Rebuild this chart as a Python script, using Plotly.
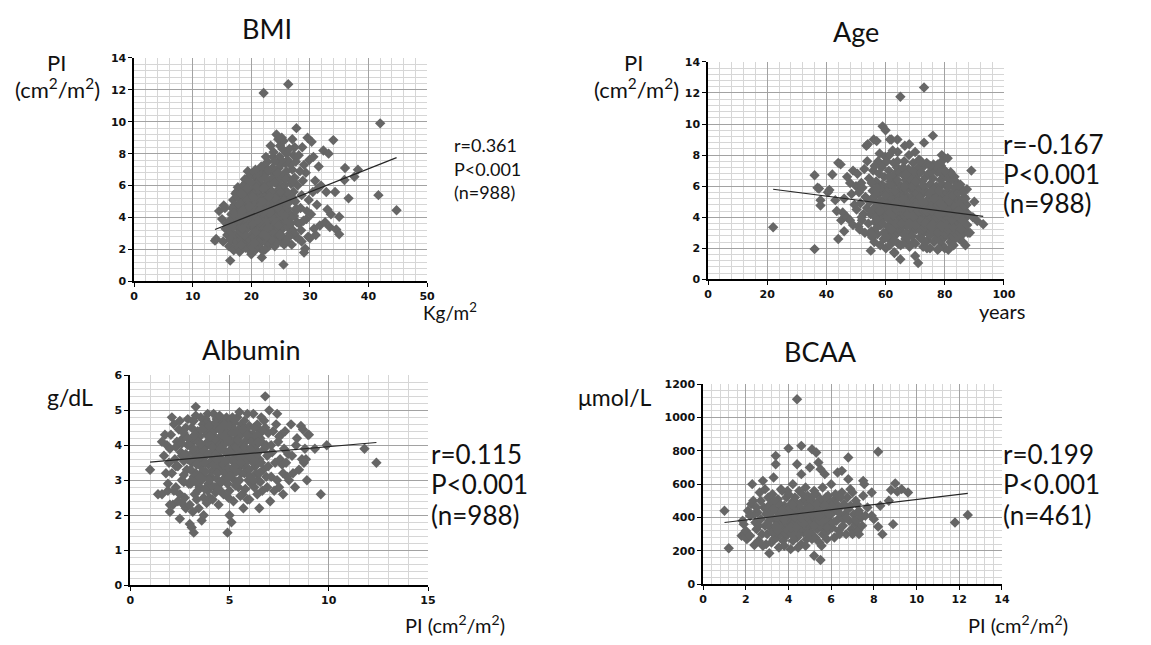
import plotly.graph_objects as go

W, H = 1151, 645

# ---- values -------------------------------------------------------------------------------
# BMI (kg/m2) vs PI (cm2/m2)
bmi_pts = [
    (13.8, 2.55), (14.0, 2.65), (14.5, 4.4), (15.0, 3.9), (15.3, 4.75), (15.2, 2.5), (15.8, 3.6), (15.5, 4.6),
    (15.9, 2.9), (15.6, 3.3),
    (16.2, 2.2), (16.4, 1.3), (16.5, 3.1), (16.6, 4.2), (16.8, 2.7), (16.9, 5.1), (17.0, 1.95), (17.1, 3.6),
    (17.2, 4.8), (17.3, 2.4), (17.4, 3.9), (17.5, 5.6), (17.6, 3.0), (17.7, 4.5), (17.8, 2.1), (17.9, 3.3),
    (16.3, 3.8), (16.7, 4.6), (17.0, 2.9), (17.5, 4.1), (17.9, 5.2), (16.9, 3.4), (17.3, 5.5), (17.8, 3.8),
    (16.4, 2.6), (17.6, 2.5), (17.1, 4.3), (17.7, 5.9),
    (18.0, 1.85), (18.1, 2.6), (18.2, 3.4), (18.3, 4.2), (18.4, 5.0), (18.5, 5.8), (18.6, 2.2), (18.7, 3.0),
    (18.8, 3.8), (18.9, 4.6), (19.0, 5.4), (19.1, 6.2), (19.2, 2.5), (19.3, 3.3), (19.4, 4.1), (19.5, 4.9),
    (19.6, 5.7), (19.7, 6.6), (19.8, 1.9), (19.9, 2.8), (18.0, 4.8), (18.2, 2.9), (18.4, 3.7), (18.6, 4.5),
    (18.8, 5.3), (19.0, 2.1), (19.2, 3.9), (19.4, 5.1), (19.6, 2.4), (19.8, 3.5), (18.1, 3.1), (18.3, 5.5),
    (18.5, 2.4), (18.7, 4.0), (18.9, 6.4), (19.1, 3.6), (19.3, 4.4), (19.5, 2.7), (19.7, 4.3), (19.9, 5.0),
    (18.6, 6.0), (19.4, 6.9), (19.9, 4.0), (18.4, 4.4), (19.0, 3.2),
    (20.0, 1.7), (20.1, 2.3), (20.2, 3.0), (20.3, 3.7), (20.4, 4.4), (20.5, 5.1), (20.6, 5.8), (20.7, 6.5),
    (20.8, 2.0), (20.9, 2.7), (21.0, 3.4), (21.1, 4.1), (21.2, 4.8), (21.3, 5.5), (21.4, 6.2), (21.5, 7.0),
    (21.6, 2.4), (21.7, 3.1), (21.8, 1.5), (21.9, 3.8), (20.0, 4.7), (20.2, 5.4), (20.4, 6.1), (20.6, 2.6),
    (20.8, 3.3), (21.0, 4.0), (21.2, 5.7), (21.4, 2.9), (21.6, 4.5), (21.8, 5.2), (20.1, 3.5), (20.3, 2.1),
    (20.5, 6.8), (20.7, 4.2), (20.9, 4.9), (21.1, 6.6), (21.3, 3.6), (21.5, 4.3), (21.7, 5.9), (21.9, 6.8),
    (20.0, 3.9), (20.4, 2.8), (20.8, 5.6), (21.2, 2.2), (21.6, 6.4), (21.9, 4.6), (20.6, 4.0), (21.0, 5.2),
    (21.4, 3.3), (21.8, 4.0), (20.3, 4.6), (21.1, 2.6), (21.7, 7.2), (20.9, 6.1), (21.5, 5.0),
    (22.0, 1.9), (22.1, 11.8), (22.1, 2.6), (22.2, 3.3), (22.3, 4.0), (22.4, 4.7), (22.5, 5.4), (22.6, 6.1),
    (22.7, 6.8), (22.8, 7.5), (22.9, 2.2), (23.0, 2.9), (23.1, 3.6), (23.2, 4.3), (23.3, 5.0), (23.4, 5.7),
    (23.5, 6.4), (23.6, 7.1), (23.7, 7.8), (23.8, 2.5), (23.9, 3.2), (22.0, 3.9), (22.2, 4.6), (22.4, 5.3),
    (22.6, 2.4), (22.8, 3.1), (23.0, 3.8), (23.2, 5.6), (23.4, 2.7), (23.6, 4.4), (23.8, 5.1), (22.1, 5.8),
    (22.3, 6.5), (22.5, 3.0), (22.7, 4.2), (22.9, 4.9), (23.1, 6.3), (23.3, 3.4), (23.5, 4.1), (23.7, 5.5),
    (23.9, 6.7), (22.0, 7.2), (22.4, 2.0), (22.8, 5.8), (23.2, 2.3), (23.6, 3.4), (23.9, 4.5), (22.6, 4.9),
    (23.0, 6.0), (23.4, 4.6), (23.8, 8.1), (22.3, 3.5), (23.1, 4.8), (23.7, 3.9), (22.9, 7.0), (23.5, 5.3),
    (24.0, 2.2), (24.1, 2.9), (24.2, 3.6), (24.3, 4.3), (24.4, 5.0), (24.5, 5.7), (24.6, 6.4), (24.7, 7.1),
    (24.8, 7.8), (24.9, 8.5), (25.0, 2.5), (25.1, 3.2), (25.2, 3.9), (25.3, 4.6), (25.4, 5.3), (25.5, 1.05),
    (25.6, 6.0), (25.7, 6.7), (25.8, 7.4), (25.9, 8.1), (24.0, 4.7), (24.2, 5.4), (24.4, 6.1), (24.6, 2.6),
    (24.8, 3.3), (25.0, 4.0), (25.2, 5.9), (25.4, 2.8), (25.6, 4.4), (25.8, 5.1), (24.1, 6.9), (24.3, 9.2),
    (24.5, 3.0), (24.7, 4.2), (24.9, 4.9), (25.1, 6.6), (25.3, 3.5), (25.5, 8.8), (25.7, 5.5), (25.9, 3.8),
    (24.6, 8.9), (25.2, 9.0), (24.8, 6.3), (25.6, 2.3), (25.0, 7.3), (24.3, 2.4),
    (26.0, 2.5), (26.2, 3.4), (26.3, 12.35), (26.4, 4.3), (26.6, 5.2), (26.8, 6.1), (27.0, 7.0), (27.2, 7.9),
    (27.4, 8.4), (27.6, 2.8), (27.8, 3.7), (26.1, 4.6), (26.3, 5.5), (26.5, 6.4), (26.7, 7.3), (26.9, 2.3),
    (27.1, 3.2), (27.3, 4.1), (27.5, 5.0), (27.7, 9.6), (27.9, 6.0), (26.0, 6.9), (26.5, 8.3), (27.0, 8.9),
    (27.4, 6.5), (27.8, 4.5), (26.6, 3.0), (27.2, 5.6), (26.2, 7.6), (27.6, 7.5), (26.8, 4.0),
    (28.0, 2.7), (28.2, 3.6), (28.4, 4.6), (28.6, 5.4), (28.8, 6.3), (29.0, 7.3), (29.2, 2.05), (29.0, 1.8),
    (29.4, 3.9), (29.6, 9.0), (29.8, 5.1), (28.1, 7.9), (28.5, 3.2), (28.9, 3.8), (29.3, 6.8), (29.7, 2.8),
    (28.3, 6.9), (28.7, 8.4), (29.5, 4.4), (28.6, 2.5), (29.9, 7.6),
    (30.0, 2.7), (30.3, 8.75), (30.5, 5.6), (30.7, 3.3), (30.2, 4.2), (30.9, 6.3), (31.2, 4.8), (31.5, 7.2),
    (31.7, 3.5), (31.3, 5.8), (31.9, 6.0), (30.6, 7.8), (31.0, 2.9),
    (32.3, 8.2), (32.6, 3.7), (32.8, 5.6), (33.2, 8.0), (33.0, 4.5), (33.6, 4.2), (34.0, 8.85), (34.5, 3.25),
    (35.0, 4.05), (35.0, 2.95), (34.3, 5.6), (33.4, 3.4),
    (35.9, 6.35), (36.0, 7.1), (36.6, 5.2), (37.6, 6.55), (38.2, 7.0), (41.7, 5.4), (42.0, 9.9), (44.8, 4.45),
    # dense core
    (18.3, 2.3), (18.9, 2.9), (19.5, 3.6), (20.1, 4.3), (20.7, 3.1), (21.3, 2.5), (21.9, 2.9), (22.5, 3.7),
    (23.1, 4.3), (23.7, 3.0), (24.3, 3.7), (24.9, 4.4), (25.5, 5.0), (26.1, 5.6), (26.7, 3.6), (27.3, 3.0),
    (18.5, 3.3), (19.1, 4.0), (19.7, 4.7), (20.3, 5.3), (20.9, 5.9), (21.5, 3.7), (22.1, 4.3), (22.7, 5.0),
    (23.3, 5.6), (23.9, 6.2), (24.5, 6.8), (25.1, 7.6), (25.7, 4.1), (26.3, 4.9), (26.9, 5.3), (27.5, 4.5),
    (18.2, 4.0), (19.3, 5.8), (20.5, 2.4), (21.1, 3.8), (21.7, 4.8), (22.3, 5.9), (22.9, 3.4), (23.5, 2.6),
    (24.1, 5.2), (24.7, 3.5), (25.3, 8.3), (25.9, 6.4), (26.5, 2.8), (27.1, 6.3), (19.9, 6.2), (20.7, 7.0),
    (22.5, 7.8), (23.3, 8.5), (24.0, 7.5), (26.0, 8.0), (21.3, 4.4), (22.0, 5.0), (23.0, 5.3), (24.5, 4.6),
    (25.0, 5.6), (20.2, 3.6), (22.6, 2.8), (24.9, 2.9),
]

# Age (years) vs PI (cm2/m2)
age_pts = [
    (22.0, 3.35), (36.0, 1.95), (36.0, 6.7), (37.0, 5.9), (37.5, 5.85), (38.0, 5.1), (38.0, 4.75), (40.5, 5.6),
    (41.0, 5.75), (42.0, 6.75), (43.0, 5.1), (43.5, 4.4), (44.0, 2.6), (44.0, 7.5), (44.8, 7.4), (45.0, 3.8),
    (45.5, 4.3), (46.0, 3.1), (46.0, 5.2), (47.0, 6.6), (47.0, 4.0), (48.0, 6.2), (48.0, 3.8), (48.5, 5.5),
    (49.0, 7.0), (49.0, 3.5), (49.5, 4.8), (50.0, 6.0),
    (50.2, 4.5), (50.5, 6.8), (50.8, 3.4), (51.0, 5.6), (51.3, 3.2), (51.5, 4.9), (51.8, 6.2), (52.0, 3.8),
    (52.2, 5.9), (52.5, 4.2), (52.8, 7.1), (53.0, 3.0), (53.2, 5.3), (53.5, 8.6), (53.7, 4.6), (54.0, 8.7),
    (54.2, 3.6), (54.4, 6.5), (54.6, 5.0), (54.8, 2.9), (53.8, 7.6), (51.9, 4.0), (54.9, 4.2),
    (55.0, 1.85), (55.2, 3.1), (55.4, 4.4), (55.6, 5.7), (55.8, 7.0), (56.0, 9.0), (56.2, 2.4), (56.4, 3.7),
    (56.6, 5.0), (56.8, 6.3), (57.0, 8.9), (57.2, 2.9), (57.4, 4.2), (57.6, 5.5), (57.8, 6.8), (58.0, 8.1),
    (58.2, 2.2), (58.4, 3.5), (58.6, 4.8), (58.8, 6.1), (59.0, 9.85), (59.2, 7.4), (59.4, 3.0), (59.6, 4.3),
    (59.8, 5.6), (55.5, 2.7), (56.5, 4.0), (57.5, 7.6), (58.5, 5.9), (59.5, 6.6), (55.9, 5.3), (56.9, 3.3),
    (57.9, 4.6), (58.9, 3.9), (59.9, 7.9), (55.3, 6.2), (56.3, 7.3), (57.3, 3.8), (58.3, 5.1), (59.3, 2.6),
    (56.7, 4.7), (58.7, 7.2),
    (60.0, 9.6), (60.1, 2.0), (60.3, 3.0), (60.5, 4.0), (60.7, 5.0), (60.9, 6.0), (61.1, 7.0), (61.3, 8.0),
    (61.5, 9.0), (61.7, 2.5), (61.9, 3.5), (62.1, 4.5), (62.3, 5.5), (62.5, 6.5), (62.7, 7.5), (62.0, 9.0),
    (62.9, 1.75), (63.1, 3.2), (63.3, 4.2), (63.5, 5.2), (63.7, 6.2), (63.9, 7.2), (64.1, 8.2), (64.0, 9.0),
    (64.3, 2.3), (64.5, 3.8), (64.7, 4.8), (64.9, 5.8), (63.0, 1.7), (60.2, 4.6), (60.6, 5.6), (60.8, 3.4),
    (61.2, 4.3), (61.6, 6.3), (61.8, 5.3), (62.2, 2.8), (62.6, 3.7), (62.8, 4.9), (63.2, 6.8), (63.6, 2.9),
    (63.8, 4.5), (64.2, 5.4), (64.6, 6.9), (64.8, 3.3), (60.4, 7.6), (61.4, 2.2), (62.4, 8.3), (63.4, 3.6),
    (64.4, 4.2), (60.9, 4.8), (62.0, 6.0), (63.0, 5.7), (64.0, 3.0),
    (65.0, 11.75), (65.0, 1.3), (65.1, 2.2), (65.3, 3.1), (65.5, 4.0), (65.7, 4.9), (65.9, 5.8), (66.1, 6.7),
    (66.3, 7.6), (66.5, 8.6), (66.7, 2.6), (66.9, 3.5), (67.1, 4.4), (67.3, 5.3), (67.5, 6.2), (67.7, 7.1),
    (67.9, 8.0), (68.0, 8.7), (68.1, 2.1), (68.3, 3.0), (68.5, 3.9), (68.7, 4.8), (68.9, 5.7), (69.1, 6.6),
    (69.3, 7.5), (69.5, 2.4), (69.7, 3.3), (69.9, 4.2), (65.2, 5.1), (65.4, 6.0), (65.6, 3.4), (65.8, 4.3),
    (66.0, 2.9), (66.2, 3.8), (66.4, 4.6), (66.6, 5.5), (66.8, 6.4), (67.0, 3.0), (67.2, 3.9), (67.4, 4.7),
    (67.6, 2.3), (67.8, 5.0), (68.2, 4.2), (68.4, 5.1), (68.6, 6.0), (68.8, 3.4), (69.0, 4.5), (69.2, 5.4),
    (69.4, 3.8), (69.6, 6.2), (69.8, 5.1), (66.0, 7.2), (67.0, 5.8), (68.0, 6.5), (69.0, 2.8), (67.5, 3.5),
    (66.5, 4.1),
    (70.0, 1.5), (70.0, 8.2), (71.0, 1.05), (70.1, 2.3), (70.3, 3.2), (70.5, 4.1), (70.7, 5.0), (70.9, 5.9),
    (71.1, 6.8), (71.3, 7.7), (71.5, 2.7), (71.7, 3.6), (71.9, 4.5), (72.1, 5.4), (72.3, 6.3), (72.5, 7.2),
    (72.7, 2.1), (72.9, 3.0), (73.0, 12.35), (73.0, 8.8), (73.1, 3.9), (73.3, 4.8), (73.5, 5.7), (73.7, 6.6),
    (73.9, 7.5), (74.1, 2.5), (74.3, 3.4), (74.5, 4.3), (74.7, 5.2), (74.9, 6.1), (70.2, 4.6), (70.4, 5.5),
    (70.6, 3.7), (70.8, 6.4), (71.2, 4.0), (71.4, 4.9), (71.6, 5.8), (71.8, 3.1), (72.0, 4.2), (72.2, 2.6),
    (72.4, 3.5), (72.6, 4.7), (72.8, 5.6), (73.2, 3.3), (73.4, 2.4), (73.6, 4.1), (73.8, 5.0), (74.0, 3.8),
    (74.2, 4.7), (74.4, 6.8), (74.6, 2.9), (74.8, 3.7), (71.0, 7.2), (72.0, 6.9), (73.0, 6.0), (74.0, 5.6),
    (75.0, 2.0), (75.2, 2.9), (75.4, 3.8), (75.6, 4.7), (75.8, 5.6), (76.0, 9.25), (76.0, 6.5), (76.2, 7.4),
    (76.4, 2.4), (76.6, 3.3), (76.8, 4.2), (77.0, 5.1), (77.2, 6.0), (77.4, 6.9), (77.6, 1.9), (77.8, 2.8),
    (78.0, 3.7), (78.2, 4.6), (78.4, 5.5), (78.6, 6.4), (78.8, 7.3), (79.0, 8.0), (79.2, 2.2), (79.4, 3.1),
    (79.6, 4.0), (79.8, 4.9), (75.1, 4.3), (75.3, 5.2), (75.5, 6.1), (75.7, 3.1), (75.9, 4.0), (76.1, 4.9),
    (76.3, 5.8), (76.5, 3.7), (76.7, 4.6), (76.9, 2.6), (77.1, 3.5), (77.3, 4.4), (77.5, 5.3), (77.7, 3.9),
    (77.9, 4.8), (78.1, 5.7), (78.3, 2.5), (78.5, 3.4), (78.7, 4.3), (78.9, 5.2), (79.1, 6.1), (79.3, 3.6),
    (79.5, 5.5), (79.7, 6.8), (79.9, 2.7), (76.4, 7.1), (77.6, 7.4), (78.2, 6.9), (75.4, 6.9),
    (80.0, 2.0), (80.2, 2.9), (80.4, 3.8), (80.6, 4.7), (80.8, 5.6), (81.0, 7.8), (81.0, 6.5), (81.2, 1.9),
    (81.4, 2.8), (81.6, 3.7), (81.8, 4.6), (82.0, 5.5), (82.2, 6.4), (82.4, 2.3), (82.6, 3.2), (82.8, 4.1),
    (83.0, 5.0), (83.2, 5.9), (83.4, 2.6), (83.6, 3.5), (83.8, 4.4), (84.0, 5.3), (84.2, 6.2), (84.4, 2.9),
    (84.6, 3.8), (84.8, 4.7), (80.1, 4.2), (80.3, 5.1), (80.5, 6.0), (80.7, 3.3), (80.9, 4.2), (81.1, 5.1),
    (81.3, 6.0), (81.5, 4.0), (81.7, 5.0), (81.9, 2.4), (82.1, 3.6), (82.3, 4.5), (82.5, 5.4), (82.7, 2.8),
    (82.9, 3.7), (83.1, 4.6), (83.3, 6.6), (83.5, 3.0), (83.7, 4.0), (84.1, 4.9), (84.3, 3.4), (84.5, 5.6),
    (84.9, 3.1), (80.5, 6.9), (82.0, 6.9),
    (85.0, 2.6), (85.2, 3.4), (85.4, 4.2), (85.6, 5.0), (85.8, 5.8), (86.0, 2.9), (86.2, 3.7), (86.4, 4.5),
    (86.6, 5.3), (86.8, 3.2), (87.0, 2.2), (87.2, 4.0), (87.4, 4.8), (87.6, 3.5), (85.3, 6.1), (86.1, 2.4),
    (86.5, 3.0), (85.7, 3.9), (86.9, 4.3), (87.8, 3.0), (87.0, 5.2), (85.9, 4.6),
    (89.0, 7.0), (88.0, 4.2), (89.5, 4.0), (90.0, 5.0), (91.0, 3.75), (93.0, 3.55), (88.5, 3.0), (87.5, 5.8),
    # dense core
    (58.1, 4.4), (59.1, 5.0), (60.1, 5.4), (60.5, 2.7), (61.0, 3.9), (61.5, 4.7), (62.0, 3.2), (62.5, 4.1),
    (63.0, 4.8), (63.5, 4.5), (64.0, 6.4), (64.5, 5.1), (65.0, 4.6), (65.5, 3.6), (66.0, 5.2), (66.5, 6.0),
    (67.0, 2.6), (67.5, 4.2), (68.0, 3.6), (68.5, 4.6), (69.0, 6.0), (69.5, 4.0), (70.0, 3.5), (70.5, 4.8),
    (71.0, 4.4), (71.5, 5.3), (72.0, 3.8), (72.5, 5.0), (73.0, 4.4), (73.5, 3.6), (74.0, 4.4), (74.5, 5.5),
    (75.0, 3.4), (75.5, 4.5), (76.0, 4.3), (76.5, 5.2), (77.0, 4.0), (77.5, 3.0), (78.0, 4.2), (78.5, 4.9),
    (79.0, 3.4), (79.5, 4.4), (80.0, 4.6), (80.5, 3.5), (81.0, 4.4), (81.5, 3.3), (82.0, 4.2), (82.5, 3.8),
    (83.0, 3.3), (83.5, 4.7), (84.0, 4.1), (84.5, 4.4), (85.0, 4.0), (85.5, 3.2), (86.0, 3.8), (63.0, 2.5),
    (66.0, 2.3), (69.0, 7.0), (72.0, 7.6), (75.0, 7.3), (78.0, 2.0), (80.0, 7.0), (83.0, 2.2), (86.0, 5.6),
    (70.0, 6.3), (67.0, 6.8), (64.0, 7.6), (61.0, 6.6), (57.0, 5.9), (59.0, 3.6), (74.0, 2.0), (79.0, 7.6),
]

# PI (cm2/m2) vs albumin (g/dL)
alb_pts = [
    (1.0, 3.3), (1.4, 2.6), (1.6, 2.6), (1.6, 4.1), (1.7, 3.7), (1.8, 3.2), (1.85, 4.0), (1.9, 2.9),
    (1.95, 3.5), (1.75, 4.3), (1.9, 2.7),
    (2.0, 3.9), (2.05, 4.3), (2.1, 3.2), (2.15, 2.3), (2.2, 4.6), (2.25, 3.6), (2.3, 2.8), (2.35, 4.1),
    (2.4, 3.4), (2.45, 4.45), (2.5, 2.6), (2.55, 3.8), (2.6, 3.0), (2.65, 4.2), (2.7, 3.55), (2.75, 2.5),
    (2.8, 4.5), (2.85, 3.3), (2.9, 4.0), (2.95, 2.9), (2.0, 2.1), (2.1, 4.8), (2.2, 2.7), (2.3, 3.95),
    (2.4, 2.4), (2.5, 4.7), (2.6, 3.7), (2.7, 4.35), (2.8, 2.2), (2.9, 3.6), (2.5, 1.9), (2.7, 2.95),
    (2.3, 3.4), (2.9, 4.75), (2.6, 2.35), (2.0, 2.3),
    (3.0, 1.75), (3.1, 1.65), (3.2, 1.5), (3.3, 5.1), (3.0, 2.3), (3.05, 2.9), (3.1, 3.5), (3.15, 4.1),
    (3.2, 4.7), (3.25, 2.6), (3.3, 3.2), (3.35, 3.8), (3.4, 4.4), (3.45, 2.2), (3.5, 2.8), (3.55, 3.4),
    (3.6, 4.0), (3.65, 4.6), (3.7, 2.5), (3.75, 3.1), (3.8, 3.7), (3.85, 4.3), (3.9, 4.9), (3.95, 2.9),
    (3.0, 4.0), (3.1, 4.5), (3.2, 3.1), (3.3, 3.65), (3.4, 2.7), (3.5, 4.25), (3.6, 3.0), (3.7, 3.55),
    (3.8, 4.75), (3.9, 2.7), (3.05, 3.3), (3.15, 3.8), (3.25, 4.3), (3.35, 2.45), (3.45, 3.9), (3.55, 4.8),
    (3.65, 3.25), (3.75, 4.45), (3.85, 2.35), (3.95, 3.45), (3.6, 1.85), (3.7, 2.0), (3.4, 3.5), (3.8, 3.95),
    (3.2, 3.9), (3.6, 3.75), (3.9, 4.1), (3.5, 3.65), (3.3, 4.85), (3.75, 2.75), (3.15, 2.1),
    (4.0, 2.5), (4.05, 3.1), (4.1, 3.7), (4.15, 4.3), (4.2, 4.9), (4.25, 2.8), (4.3, 3.4), (4.35, 4.0),
    (4.4, 4.6), (4.45, 2.3), (4.5, 2.9), (4.55, 3.5), (4.6, 4.1), (4.65, 4.7), (4.7, 2.6), (4.75, 3.2),
    (4.8, 3.8), (4.85, 4.4), (4.9, 1.5), (4.9, 2.9), (4.95, 3.6), (4.0, 4.6), (4.1, 3.25), (4.2, 3.85),
    (4.3, 4.45), (4.4, 2.75), (4.5, 3.3), (4.6, 3.9), (4.7, 4.5), (4.8, 3.0), (4.9, 4.2), (4.05, 4.0),
    (4.15, 2.45), (4.25, 3.55), (4.35, 4.75), (4.45, 3.7), (4.55, 4.25), (4.65, 3.0), (4.75, 3.85),
    (4.85, 4.8), (4.95, 2.5), (4.0, 3.5), (4.2, 3.45), (4.4, 4.05), (4.6, 3.6), (4.8, 4.1), (4.3, 2.65),
    (4.7, 3.45), (4.5, 4.85), (4.1, 4.4), (4.9, 3.35), (4.35, 3.05), (4.65, 4.3), (4.55, 2.7), (4.25, 4.15),
    (5.0, 2.0), (5.1, 1.8), (5.0, 2.7), (5.05, 3.3), (5.1, 3.9), (5.15, 4.5), (5.2, 2.4), (5.25, 3.0),
    (5.3, 3.6), (5.35, 4.2), (5.4, 4.8), (5.45, 2.8), (5.5, 3.4), (5.55, 4.0), (5.6, 4.6), (5.65, 2.6),
    (5.7, 2.2), (5.75, 3.2), (5.8, 3.8), (5.85, 4.4), (5.9, 4.9), (5.95, 3.0), (5.0, 4.7), (5.1, 3.15),
    (5.2, 3.75), (5.3, 4.35), (5.4, 2.95), (5.5, 3.85), (5.6, 3.2), (5.7, 4.05), (5.8, 2.75), (5.9, 3.55),
    (5.05, 4.15), (5.15, 3.55), (5.25, 4.65), (5.35, 3.25), (5.45, 4.45), (5.55, 2.55), (5.65, 3.7),
    (5.75, 4.7), (5.85, 3.35), (5.95, 4.2), (5.2, 4.05), (5.4, 3.7), (5.6, 4.3), (5.8, 4.1), (5.3, 2.85),
    (5.7, 3.45), (5.5, 4.95), (5.9, 2.45),
    (6.0, 2.45), (6.05, 3.1), (6.1, 3.7), (6.15, 4.3), (6.2, 4.9), (6.25, 2.8), (6.3, 3.4), (6.35, 4.0),
    (6.4, 4.6), (6.45, 3.0), (6.5, 2.2), (6.5, 3.6), (6.55, 4.2), (6.6, 4.8), (6.65, 2.7), (6.7, 3.3),
    (6.75, 3.9), (6.8, 5.4), (6.8, 4.5), (6.85, 3.1), (6.9, 3.7), (6.95, 4.35), (6.0, 4.55), (6.1, 2.9),
    (6.2, 3.5), (6.3, 4.15), (6.4, 2.6), (6.5, 4.45), (6.6, 3.5), (6.7, 4.05), (6.9, 2.8), (6.15, 3.85),
    (6.35, 3.2), (6.55, 2.95), (6.75, 4.7), (6.25, 4.5), (6.45, 3.8), (6.65, 4.4), (6.85, 4.0), (6.95, 3.4),
    (7.0, 5.0), (7.05, 2.4), (7.1, 3.1), (7.15, 3.8), (7.2, 4.4), (7.3, 3.5), (7.4, 4.9), (7.4, 3.0),
    (7.45, 4.1), (7.5, 2.8), (7.55, 3.6), (7.6, 4.3), (7.7, 2.6), (7.7, 3.2), (7.75, 3.9), (7.8, 4.4),
    (7.9, 3.1), (7.95, 3.75), (7.25, 2.7), (7.35, 4.6), (7.65, 3.45), (7.85, 3.5), (7.1, 4.0), (7.5, 4.25),
    (8.0, 3.0), (8.1, 4.6), (8.15, 3.7), (8.2, 3.2), (8.3, 2.8), (8.35, 4.0), (8.5, 3.3), (8.6, 4.55),
    (8.65, 3.6), (8.7, 4.45), (8.75, 3.5), (8.8, 3.9), (8.85, 3.6), (8.9, 3.0), (8.95, 4.3), (9.0, 4.3),
    (9.3, 3.9), (9.6, 2.6), (9.9, 4.0), (8.4, 4.2), (11.8, 3.9), (12.4, 3.5),
    # dense core
    (2.6, 4.05), (2.8, 3.75), (3.0, 3.6), (3.1, 3.0), (3.2, 4.25), (3.3, 2.95), (3.4, 4.1), (3.5, 3.1),
    (3.6, 4.45), (3.7, 3.85), (3.8, 3.25), (3.9, 3.75), (4.0, 4.25), (4.1, 2.85), (4.2, 4.6), (4.3, 3.75),
    (4.4, 3.2), (4.5, 4.45), (4.6, 2.95), (4.7, 4.0), (4.8, 3.55), (4.9, 4.6), (5.0, 3.8), (5.1, 4.35),
    (5.2, 3.35), (5.3, 3.95), (5.4, 4.15), (5.5, 3.0), (5.6, 3.65), (5.7, 4.45), (5.8, 3.5), (5.9, 4.3),
    (6.0, 3.3), (6.1, 4.1), (6.2, 3.0), (6.3, 3.7), (6.4, 4.3), (6.5, 3.2), (2.7, 3.15), (2.9, 4.2),
    (3.15, 4.7), (3.35, 3.45), (3.55, 4.05), (3.75, 3.5), (3.95, 4.55), (4.15, 3.95), (4.35, 3.6),
    (4.55, 3.9), (4.75, 4.6), (4.95, 4.1), (5.15, 4.8), (5.35, 3.45), (5.55, 3.5), (5.75, 3.95), (5.95, 3.7),
    (6.05, 3.9), (6.25, 3.55), (6.45, 4.1), (4.0, 3.0), (5.0, 3.1),
]

# PI (cm2/m2) vs BCAA (umol/L)
bcaa_pts = [
    (1.0, 440), (1.2, 215),
    (1.8, 290), (1.85, 380), (1.9, 360), (1.95, 300), (2.0, 320), (2.05, 270), (2.1, 440), (2.2, 410),
    (2.25, 480), (2.3, 600), (2.35, 500), (2.4, 235), (2.45, 370), (2.5, 330), (2.55, 430), (2.6, 260),
    (2.65, 550), (2.7, 390), (2.75, 300), (2.8, 620), (2.85, 460), (2.9, 350), (2.95, 240), (2.6, 350),
    (2.2, 290), (2.7, 500), (2.9, 570), (2.4, 420), (2.8, 230), (2.5, 460), (2.95, 420),
    (3.0, 300), (3.05, 360), (3.1, 185), (3.1, 420), (3.15, 480), (3.2, 250), (3.25, 540), (3.3, 640),
    (3.3, 330), (3.35, 390), (3.4, 770), (3.4, 720), (3.4, 450), (3.45, 280), (3.5, 510), (3.5, 360),
    (3.55, 220), (3.6, 420), (3.6, 300), (3.65, 570), (3.7, 560), (3.7, 380), (3.75, 260), (3.8, 470),
    (3.8, 340), (3.85, 400), (3.9, 520), (3.9, 290), (3.95, 440), (3.0, 460), (3.2, 400), (3.3, 270),
    (3.5, 430), (3.6, 480), (3.7, 330), (3.8, 230), (3.9, 370), (3.15, 340), (3.45, 390), (3.75, 450),
    (3.05, 520), (3.25, 440), (3.55, 350), (3.85, 310), (3.95, 360), (3.35, 500), (3.65, 410), (3.25, 310),
    (3.95, 560),
    (4.0, 815), (4.0, 320), (4.05, 400), (4.1, 210), (4.1, 480), (4.15, 360), (4.2, 600), (4.2, 260),
    (4.25, 440), (4.3, 330), (4.3, 520), (4.35, 390), (4.4, 1110), (4.4, 720), (4.4, 280), (4.45, 460),
    (4.5, 350), (4.5, 560), (4.55, 420), (4.6, 830), (4.6, 660), (4.6, 240), (4.65, 380), (4.7, 500),
    (4.7, 310), (4.75, 440), (4.8, 360), (4.8, 580), (4.85, 270), (4.9, 410), (4.9, 480), (4.95, 340),
    (4.0, 540), (4.1, 380), (4.2, 420), (4.3, 290), (4.4, 400), (4.5, 300), (4.6, 450), (4.7, 390),
    (4.8, 230), (4.9, 530), (4.05, 450), (4.15, 300), (4.25, 500), (4.35, 350), (4.45, 220), (4.55, 370),
    (4.65, 540), (4.75, 330), (4.85, 460), (4.95, 390), (4.3, 460), (4.6, 340), (4.2, 360),
    (5.0, 700), (5.0, 420), (5.05, 310), (5.1, 810), (5.1, 500), (5.15, 370), (5.2, 170), (5.2, 450),
    (5.25, 280), (5.3, 790), (5.3, 540), (5.3, 390), (5.35, 330), (5.4, 730), (5.4, 470), (5.45, 250),
    (5.5, 690), (5.5, 145), (5.5, 420), (5.55, 360), (5.6, 580), (5.6, 300), (5.65, 490), (5.7, 400),
    (5.7, 660), (5.75, 340), (5.8, 460), (5.8, 270), (5.85, 530), (5.9, 380), (5.95, 440), (5.0, 360),
    (5.1, 270), (5.2, 560), (5.4, 380), (5.5, 510), (5.6, 420), (5.7, 320), (5.8, 380), (5.9, 500),
    (5.05, 480), (5.25, 420), (5.45, 350), (5.65, 440), (5.85, 320), (5.15, 530), (5.35, 460), (5.55, 230),
    (5.75, 520), (5.95, 350),
    (6.0, 600), (6.0, 420), (6.05, 340), (6.1, 500), (6.15, 280), (6.2, 450), (6.25, 380), (6.3, 670),
    (6.3, 520), (6.35, 320), (6.4, 460), (6.45, 400), (6.5, 680), (6.5, 550), (6.55, 350), (6.6, 480),
    (6.65, 420), (6.7, 300), (6.75, 520), (6.8, 760), (6.8, 630), (6.8, 450), (6.85, 380), (6.9, 570),
    (6.95, 330), (6.1, 370), (6.2, 540), (6.4, 300), (6.6, 390), (6.9, 470), (6.25, 480), (6.45, 520),
    (6.7, 400), (6.05, 470), (6.35, 430),
    (7.0, 550), (7.0, 300), (7.05, 420), (7.1, 380), (7.15, 360), (7.2, 380), (7.2, 480), (7.25, 320),
    (7.3, 300), (7.35, 420), (7.4, 400), (7.45, 350), (7.5, 620), (7.5, 530), (7.55, 600), (7.6, 410),
    (7.7, 460), (7.9, 550), (7.9, 410), (8.0, 390), (8.2, 795), (8.2, 345), (8.3, 470), (8.4, 300),
    (8.7, 500), (8.8, 565), (8.9, 360), (9.0, 605), (9.1, 555), (9.3, 570), (9.6, 550), (11.8, 370),
    (12.4, 415), (7.15, 500), (7.3, 440),
    # dense core
    (3.1, 380), (3.3, 450), (3.5, 320), (3.7, 440), (3.9, 410), (4.1, 340), (4.3, 400), (4.5, 480),
    (4.7, 360), (4.9, 300), (5.1, 420), (5.3, 480), (5.5, 380), (5.7, 470), (5.9, 420), (3.4, 350),
    (3.8, 390), (4.2, 480), (4.6, 400), (5.0, 460), (5.4, 410), (5.8, 340), (4.4, 340), (4.8, 430),
    (5.2, 350),
]

# end points of the regression lines drawn in each panel
bmi_fit = ([13.8, 44.8], [3.25, 7.75])
age_fit = ([22.0, 93.0], [5.8, 4.05])
alb_fit = ([1.0, 12.4], [3.52, 4.08])
bcaa_fit = ([1.0, 12.4], [370, 545])

titles = ["BMI", "Age", "Albumin", "BCAA"]
stats = [["r=0.361", "P<0.001", "(n=988)"],
         ["r=-0.167", "P<0.001", "(n=988)"],
         ["r=0.115", "P<0.001", "(n=988)"],
         ["r=0.199", "P<0.001", "(n=461)"]]

# ---- layout helpers (pixel -> paper) ----
def px(x):
    return x / W


def py(y):
    return 1 - y / H


TXT = "Lato, 'Open Sans', sans-serif"
TICK = dict(family="DejaVu Sans", size=11, color="#111111", weight="bold")
DOT = "#666666"


def make_axis(x0, x1, rng, dtick, minor, anchor, horizontal=True):
    return dict(
        domain=[px(x0), px(x1)] if horizontal else [py(x1), py(x0)],
        range=rng, tick0=0, dtick=dtick, anchor=anchor,
        showline=True, linecolor="black", linewidth=1.5,
        ticks="outside", ticklen=4, tickcolor="black", tickwidth=1.2,
        showgrid=True, gridcolor="#a2a2a2", gridwidth=1, zeroline=False,
        minor=dict(dtick=minor, tick0=0, showgrid=True, gridcolor="#d6d6d6", gridwidth=1, ticks=""),
        tickfont=TICK, fixedrange=True,
    )


fig = go.Figure()

panels = [(bmi_pts, bmi_fit, "x", "y"), (age_pts, age_fit, "x2", "y2"),
          (alb_pts, alb_fit, "x3", "y3"), (bcaa_pts, bcaa_fit, "x4", "y4")]

for pts, fit, xa, ya in panels:
    xs = [p[0] for p in pts]
    ys = [p[1] for p in pts]
    fig.add_trace(go.Scatter(x=xs, y=ys, mode="markers", xaxis=xa, yaxis=ya,
                             marker=dict(symbol="diamond", size=8, color=DOT, line=dict(width=0)),
                             hoverinfo="skip"))
    fig.add_trace(go.Scatter(x=fit[0], y=fit[1], mode="lines", xaxis=xa, yaxis=ya,
                             line=dict(color="#262626", width=1.2), hoverinfo="skip"))

fig.update_layout(
    width=W, height=H, margin=dict(l=0, r=0, t=0, b=0),
    paper_bgcolor="white", plot_bgcolor="white", showlegend=False,
    xaxis=make_axis(132, 429, [0, 50], 10, 2, "y"),
    yaxis=make_axis(53, 281, [0, 14], 2, 0.4, "x", horizontal=False),
    xaxis2=make_axis(714, 1014, [0, 100], 20, 4, "y2"),
    yaxis2=make_axis(57, 279, [0, 14], 2, 0.4, "x2", horizontal=False),
    xaxis3=make_axis(128, 430, [0, 15], 5, 1, "y3"),
    yaxis3=make_axis(377, 591, [0, 6], 1, 0.2, "x3", horizontal=False),
    xaxis4=make_axis(709, 1012, [0, 14], 2, 0.4, "y4"),
    yaxis4=make_axis(386, 590, [0, 1200], 200, 40, "x4", horizontal=False),
)


def label(text, x, y, size, anchor="center"):
    fig.add_annotation(text=text, x=px(x), y=py(y), xref="paper", yref="paper",
                       xanchor=anchor, yanchor="middle", showarrow=False, borderpad=0,
                       font=dict(family=TXT, size=size, color="#111111"))


# panel titles
for t, (x, y) in zip(titles, [(267, 23), (864, 26), (251, 351), (828, 353)]):
    label(t, x, y, 27)

# y-axis units
unit = "(cm<sup>2</sup>/m<sup>2</sup>)"
label("PI", 53, 58, 22)
label(unit, 54, 84, 22)
label("PI", 638, 58, 22)
label(unit, 641, 84, 22)
label("g/dL", 67, 399, 23)
label("\u03bcmol/L", 620, 399, 23)

# x-axis units
label("Kg/m<sup>2</sup>", 424, 312, 19, "left")
label("years", 988, 311, 20, "left")
label("PI " + unit, 457, 631, 20)
label("PI " + unit, 1028, 631, 20)

# correlation statistics
for lines, x, ys, size in [(stats[0], 455, [142, 166, 190], 18),
                           (stats[1], 1012, [141, 171, 201], 26),
                           (stats[2], 432, [457, 488, 519], 26),
                           (stats[3], 1012, [457, 488, 519], 26)]:
    for s, y in zip(lines, ys):
        label(s, x, y, size, "left")

fig.write_html("out.html", config={"displayModeBar": False},
               post_script="document.body.style.margin='0';")
